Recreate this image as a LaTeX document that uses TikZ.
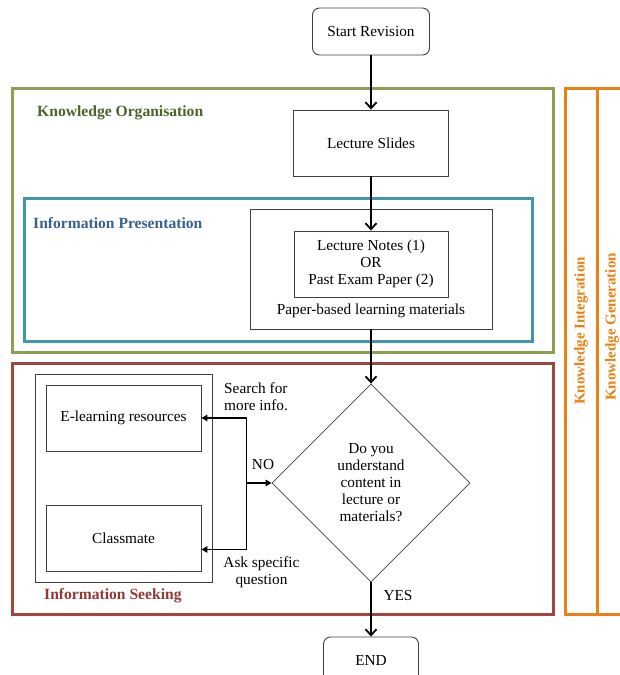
\documentclass[tikz,border=0pt]{standalone}
\usepackage{fontspec}
\setmainfont{Liberation Serif}
\usetikzlibrary{shapes.geometric,arrows.meta,calc}
\definecolor{kogreen}{RGB}{137,160,82}
\definecolor{kotext}{RGB}{79,98,40}
\definecolor{ipblue}{RGB}{66,150,176}
\definecolor{iptext}{RGB}{54,96,146}
\definecolor{isred}{RGB}{160,70,63}
\definecolor{istext}{RGB}{149,55,53}
\definecolor{kiorange}{RGB}{232,130,20}
\definecolor{boxgray}{RGB}{64,64,64}
\begin{document}
\begin{tikzpicture}[x=1pt,y=-1pt,
  font=\fontsize{15.3}{17}\selectfont,
  stepbox/.style={draw=boxgray,line width=0.9pt,rectangle,inner sep=0pt,align=center},
  termbox/.style={draw=boxgray,line width=0.9pt,rectangle,rounded corners=7pt,inner sep=0pt,align=center},
  region/.style={line width=3pt},
  title/.style={font=\fontsize{15.6}{17}\selectfont\bfseries,anchor=west,inner sep=0pt},
  flow/.style={line width=1.5pt,-{Straight Barb[length=6pt,width=11pt,line width=1.8pt]}},
  side/.style={line width=1.5pt,-{Triangle[length=6pt,width=6.5pt]}},
  lbl/.style={inner sep=0pt,align=center}]
\useasboundingbox (0,0) rectangle (620,675);
\clip (0,0) rectangle (620,675);
% regions
\draw[region,kogreen] (12,88) rectangle (553,352);
\draw[region,ipblue] (24,198) rectangle (532,341);
\draw[region,isred] (12,363) rectangle (553,614);
\draw[region,kiorange] (565,88) rectangle (597,614);
\draw[region,kiorange] (597,88) rectangle (640,614);
\node[title,text=kotext] (kot) at (37,113) {Knowledge Organisation};
\node[title,text=iptext] (ipt) at (33,223) {Information Presentation};
\node[title,text=istext] (ist) at (44,596) {Information Seeking};
\node[font=\fontsize{15}{17}\selectfont\bfseries,text=kiorange,rotate=90,inner sep=0pt] (kit) at (581,331) {Knowledge Integration};
\node[font=\fontsize{15}{17}\selectfont\bfseries,text=kiorange,rotate=90,inner sep=0pt] (kgt) at (612,327) {Knowledge Generation};
% nodes
\node[termbox,minimum width=117pt,minimum height=47pt] (start) at (371,31.5) {Start Revision};
\node[stepbox,minimum width=155pt,minimum height=66pt] (slides) at (371,143) {Lecture Slides};
\node[stepbox,minimum width=242pt,minimum height=120pt] (paper) at (371,269) {};
\node[stepbox,minimum width=154pt,minimum height=66pt] (notes) at (371,264) {Lecture Notes (1)\\OR\\Past Exam Paper (2)};
\node[lbl] (papert) at (371,311) {Paper-based learning materials};
\node[draw=boxgray,line width=0.8pt,shape=diamond,minimum width=198pt,minimum height=198pt,inner sep=0pt,align=center] (dia) at (371,483) {Do you\\understand\\content in\\lecture or\\materials?};
\node[stepbox,minimum width=177pt,minimum height=208pt] (group) at (123.5,478) {};
\node[stepbox,minimum width=155pt,minimum height=66pt] (elearn) at (123.5,418) {E-learning resources};
\node[stepbox,minimum width=155pt,minimum height=66pt] (mate) at (123.5,538) {Classmate};
\node[termbox,minimum width=95pt,minimum height=47pt] (end) at (371,660.5) {END};
% labels
\node[lbl,align=left,anchor=west] (search) at (224,396.5) {Search for\\more info.};
\node[lbl] (ask) at (261.5,572.5) {Ask specific\\question};
\node[lbl] (no) at (263,465) {NO};
\node[lbl] (yes) at (398,596) {YES};
% connectors
\coordinate (j) at (246.5,483);
\draw[flow] (start.south) -- (slides.north);
\draw[flow] (slides.south) -- (notes.north);
\draw[flow] (paper.south) -- (dia.north);
\draw[flow] (dia.south) -- (end.north);
\draw[side] (j) -- (dia.west);
\draw[side] (j) |- (elearn.east);
\draw[side] (j) |- ($(mate.south east)+(0,-22)$);
\end{tikzpicture}
\end{document}
